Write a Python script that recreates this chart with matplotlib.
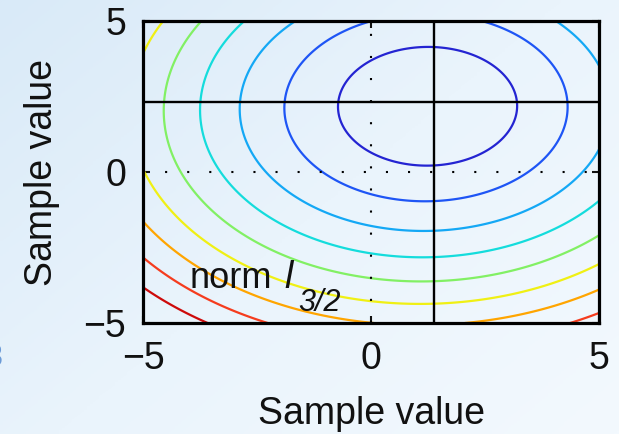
import numpy as np
import matplotlib
matplotlib.use("Agg")
import matplotlib.pyplot as plt
from matplotlib.colors import LinearSegmentedColormap

plt.rcParams["font.family"] = ["Liberation Sans", "DejaVu Sans"]

# Sample points (and their weights) entering the l_{3/2} cost
sample_x = [1.38, -8.0]
sample_y = [2.33, -8.0]
sample_w = [1.0, 0.04]
cost_power = 1.5

# Contour levels of the cost above its minimum, with their line colours
contour_levels = [2.75, 5.5, 8.25, 11.0, 13.75, 16.5, 19.25, 22.0, 24.75]
level_colors = ["#2424d2", "#1e55f5", "#14a8f5", "#14dcdc", "#82f064",
                "#f0f014", "#ffa500", "#f53c1e", "#cd0a0a"]

# Estimate marked by the solid crosshair
estimate_x = 1.38
estimate_y = 2.33

axis_range = [-5, 5]
ticks = [-5, 0, 5]
tick_labels = ["\u22125", "0", "5"]
axis_label = "Sample value"

# ---- cost surface ----
grid = np.linspace(axis_range[0], axis_range[1], 601)
X, Y = np.meshgrid(grid, grid)
cost = np.zeros_like(X)
for sx, sy, w in zip(sample_x, sample_y, sample_w):
    cost += w * np.hypot(X - sx, Y - sy) ** cost_power
cost -= cost.min()

W, H = 619, 434
fig = plt.figure(figsize=(W / 100, H / 100), dpi=100)

# soft slide-like background
bg = fig.add_axes([0, 0, 1, 1], zorder=-10)
gx, gy = np.meshgrid(np.linspace(0, 1, 200), np.linspace(0, 1, 200))
t = np.clip(0.55 * gx + 0.45 * gy, 0, 1)
bg_cmap = LinearSegmentedColormap.from_list("bg", ["#d9eaf8", "#eaf4fc", "#f3f9fe"])
bg.imshow(t, cmap=bg_cmap, extent=[0, 1, 0, 1], origin="upper", aspect="auto")
bg.axis("off")

ax = fig.add_axes([143 / W, (H - 323) / H, 456 / W, 302 / H])
ax.set_facecolor("none")

ax.contour(X, Y, cost, levels=contour_levels, colors=level_colors, linewidths=1.6)

dot = (0, (1, 9.6))
ax.axvline(0, color="black", lw=1.5, linestyle=dot)
ax.axhline(0, color="black", lw=1.5, linestyle=dot)
ax.axvline(estimate_x, color="black", lw=1.7)
ax.axhline(estimate_y, color="black", lw=1.7)

ax.set_xlim(axis_range)
ax.set_ylim(axis_range)
ax.set_xticks(ticks, tick_labels)
ax.set_yticks(ticks, tick_labels)
ax.tick_params(direction="in", length=5, width=1.5, top=True, right=True,
               labelsize=27, colors="#111111")
ax.tick_params(axis="x", pad=13)
ax.tick_params(axis="y", pad=12)
for s in ax.spines.values():
    s.set_linewidth(2.3)
    s.set_color("black")

ax.set_xlabel(axis_label, fontsize=27, color="#111111", labelpad=14)
ax.set_ylabel(axis_label, fontsize=27, color="#111111", labelpad=17)

# in-plot annotation
ax.text(-3.97, -3.84, "norm", fontsize=26, color="#111111", va="baseline", ha="left")
ax.text(-1.90, -3.84, "l", fontsize=27, style="italic", color="#111111",
        va="baseline", ha="left")
ax.text(-1.60, -4.60, "3/2", fontsize=22, style="italic", color="#111111",
        va="baseline", ha="left")

# glyph cut by the slide's left edge
fig.text(3 / W, 1 - 358 / H, "3", fontsize=22, color="#6b9ad6",
         ha="right", va="center")

fig.savefig("out.png", dpi=100)
